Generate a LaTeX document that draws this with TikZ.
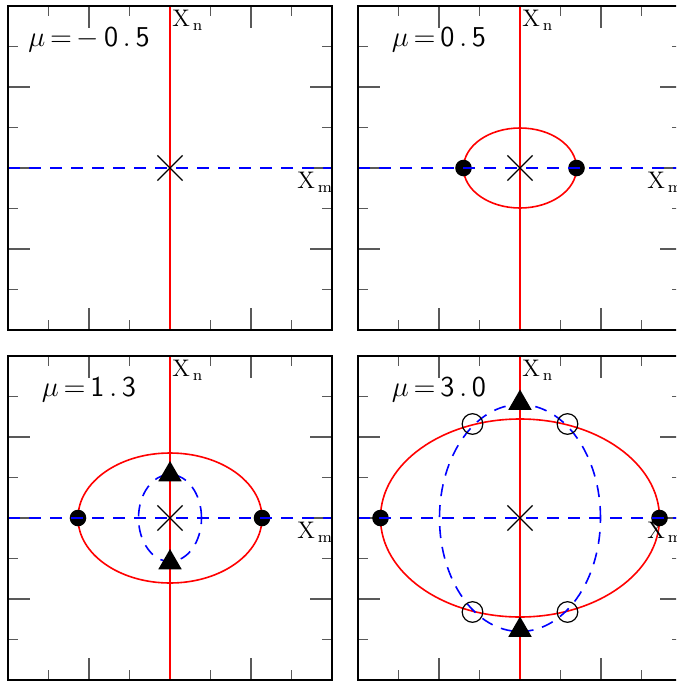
\documentclass[tikz,border=0pt]{standalone}
\usetikzlibrary{shapes.geometric, shapes.misc}

\begin{document}
\begin{tikzpicture}[
    x=0.5pt, y=-0.5pt,
    panelframe/.style={
        draw,
        line width=1pt
    },
    tickmark/.style={
        draw=black!65,
        line width=0.6pt
    },
    redline/.style={
        red,
        line width=0.8pt
    },
    bluedash/.style={
        blue,
        line width=0.8pt,
        dash pattern=on 6pt off 4.5pt
    },
    dot/.style={
        circle,
        fill=black,
        inner sep=0pt,
        minimum size=8.3pt
    },
    tri/.style={
        regular polygon,
        regular polygon sides=3,
        fill=black,
        inner sep=0pt,
        minimum size=13.5pt
    },
    ring/.style={
        circle,
        draw=black,
        line width=0.6pt,
        inner sep=0pt,
        minimum size=10.3pt
    },
    centre/.style={
        cross out,
        draw=black,
        line width=0.6pt,
        inner sep=0pt,
        minimum size=12pt
    },
    mulabel/.style={
        anchor=base,
        inner sep=0pt,
        font=\Large
    },
    axlabel/.style={
        anchor=north west,
        inner sep=0pt,
        font=\large
    }
]

\useasboundingbox (0,0) rectangle (676,681);
\clip (0,0) rectangle (676,681);

% ticks and X_n axes
\foreach \cx/\cy in {170/168, 520/168, 170/518, 520/518} {
    \begin{scope}[shift={(\cx,\cy)}]
        \foreach \t in {-121.5,-40.5,40.5,121.5} {
            \draw[tickmark] (\t,-162) -- (\t,-152);
            \draw[tickmark] (\t,162) -- (\t,152);
            \draw[tickmark] (-162,\t) -- (-152,\t);
            \draw[tickmark] (162,\t) -- (152,\t);
        }
        \foreach \t in {-81,0,81} {
            \draw[tickmark] (\t,-162) -- (\t,-140);
            \draw[tickmark] (\t,162) -- (\t,140);
            \draw[tickmark] (-162,\t) -- (-140,\t);
            \draw[tickmark] (162,\t) -- (140,\t);
        }
        \draw[redline] (0,-162) -- (0,162);
    \end{scope}
}

% mu = 0.5
\begin{scope}[shift={(520,168)}]
    \draw[redline] (0,0) ellipse [x radius=28.25pt, y radius=20pt];
    \node[dot] (b1) at (-56.5,0) {};
    \node[dot] (b2) at (56.5,0) {};
\end{scope}

% mu = 1.3
\begin{scope}[shift={(170,518)}]
    \draw[redline] (0,0) ellipse [x radius=46pt, y radius=32.5pt];
    \draw[bluedash] (0,0) ellipse [x radius=15.75pt, y radius=21.75pt];
    \node[dot] (c1) at (-92,0) {};
    \node[dot] (c2) at (92,0) {};
    \node[tri] (c3) at (0,-43.5) {};
    \node[tri] (c4) at (0,44.5) {};
\end{scope}

% mu = 3.0
\begin{scope}[shift={(520,518)}]
    \draw[redline] (0,0) ellipse [x radius=69.75pt, y radius=49.5pt];
    \draw[bluedash] (0,0) ellipse [x radius=40.25pt, y radius=56.75pt];
    \node[dot] (d1) at (-139.5,0) {};
    \node[dot] (d2) at (139.5,0) {};
    \node[tri] (d3) at (0,-115) {};
    \node[tri] (d4) at (0,112) {};
    \node[ring] (d5) at (-47.5,-94) {};
    \node[ring] (d6) at (47.5,-94) {};
    \node[ring] (d7) at (-47.5,94) {};
    \node[ring] (d8) at (47.5,94) {};
\end{scope}

% X_m axes, frames and labels
\foreach \cx/\cy/\val/\i in {170/168/{{-}\,\mathsf{0\,.\,5}}/1, 520/168/{\mathsf{0\,.\,5}}/2,
                             170/518/{\mathsf{1\,.\,3}}/3, 520/518/{\mathsf{3\,.\,0}}/4} {
    \begin{scope}[shift={(\cx,\cy)}]
        \draw[bluedash] (-162,0) -- (162,0);
        \node[centre] (o\i) at (0,0) {};
        \draw[panelframe] (-162,-162) rectangle (162,162);
        \node[mulabel] (mu\i) at (-81,-122) {$\mu\,{=}\,\val$};
        \node[axlabel] (xn\i) at (2,-158) {$\mathrm{X}_{\,\mathrm{n}}$};
        \node[axlabel] (xm\i) at (127,4) {$\mathrm{X}_{\,\mathrm{m}}$};
    \end{scope}
}

\end{tikzpicture}
\end{document}
